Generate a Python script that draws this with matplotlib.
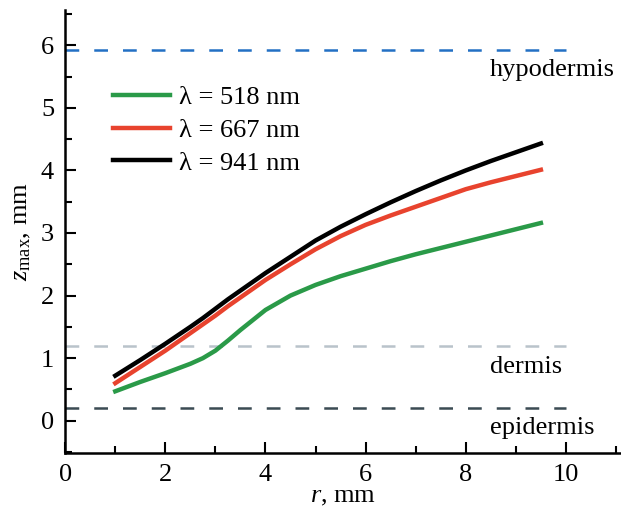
import matplotlib
matplotlib.use("Agg")
import matplotlib.pyplot as plt
from matplotlib.ticker import MultipleLocator

plt.rcParams['font.family'] = ['Liberation Serif', 'DejaVu Serif']
plt.rcParams['mathtext.fontset'] = 'custom'
plt.rcParams['mathtext.rm'] = 'Liberation Serif'
plt.rcParams['mathtext.it'] = 'Liberation Serif:italic'

r = [1, 1.5, 2, 2.5, 2.75, 3, 3.25, 3.5, 4, 4.5, 5, 5.5, 6, 6.5, 7, 7.5, 8, 8.5, 9, 9.5]
z_518 = [0.47, 0.62, 0.76, 0.91, 1.00, 1.12, 1.28, 1.45, 1.77, 2.00, 2.17, 2.31, 2.43, 2.55, 2.66, 2.76, 2.86, 2.96, 3.06, 3.16]
z_667 = [0.60, 0.86, 1.12, 1.40, 1.54, 1.68, 1.83, 1.97, 2.25, 2.50, 2.74, 2.95, 3.13, 3.28, 3.42, 3.56, 3.70, 3.81, 3.91, 4.01]
z_941 = [0.72, 0.97, 1.23, 1.50, 1.64, 1.79, 1.94, 2.08, 2.36, 2.62, 2.88, 3.10, 3.30, 3.49, 3.67, 3.84, 4.00, 4.15, 4.29, 4.43]
series_labels = ["λ = 518 nm", "λ = 667 nm", "λ = 941 nm"]

layer_names = ["hypodermis", "dermis", "epidermis"]
layer_depths = [5.93, 1.2, 0.2]
layer_text_y = [5.51, 0.77, -0.21]
layer_colors = ["#2370c4", "#b9c3ca", "#3b4b53"]

FS = 19

fig = plt.figure(figsize=(6.21, 5.11), dpi=100)
ax = fig.add_axes([0.105, 0.113, 0.895, 0.867])

for d, c in zip(layer_depths, layer_colors):
    ax.plot([0, 10], [d, d], color=c, lw=1.8, dashes=(5.5, 6.0))
for name, ty in zip(layer_names, layer_text_y):
    ax.text(8.48, ty, name, fontsize=FS, va='baseline', ha='left')

ax.plot(r, z_518, color="#2a9a48", lw=3.2, label=series_labels[0])
ax.plot(r, z_667, color="#e8432e", lw=3.2, label=series_labels[1])
ax.plot(r, z_941, color="black", lw=3.2, label=series_labels[2])

ax.set_xlim(0, 11.1)
ax.set_ylim(-0.52, 6.56)
ax.spines['top'].set_visible(False)
ax.spines['right'].set_visible(False)
ax.spines['left'].set_linewidth(1.8)
ax.spines['bottom'].set_linewidth(1.8)
ax.xaxis.set_major_locator(MultipleLocator(2))
ax.xaxis.set_minor_locator(MultipleLocator(1))
ax.yaxis.set_major_locator(MultipleLocator(1))
ax.yaxis.set_minor_locator(MultipleLocator(0.5))
ax.tick_params(which='both', direction='in', width=1.5, labelsize=FS)
ax.tick_params(which='major', length=8)
ax.tick_params(which='minor', length=5)
ax.tick_params(axis='x', pad=8)
ax.tick_params(axis='y', pad=8)

ax.set_xlabel(r"$r$, mm", fontsize=FS, labelpad=0)
ax.set_ylabel(r"$z_{\rm max}$, mm", fontsize=FS, labelpad=6)

leg = ax.legend(loc='center left', bbox_to_anchor=(0.086, 0.729), frameon=False,
                fontsize=FS, handlelength=2.15, handletextpad=0.35, labelspacing=0.35,
                borderpad=0, borderaxespad=0)

fig.savefig("out.png", dpi=100)
